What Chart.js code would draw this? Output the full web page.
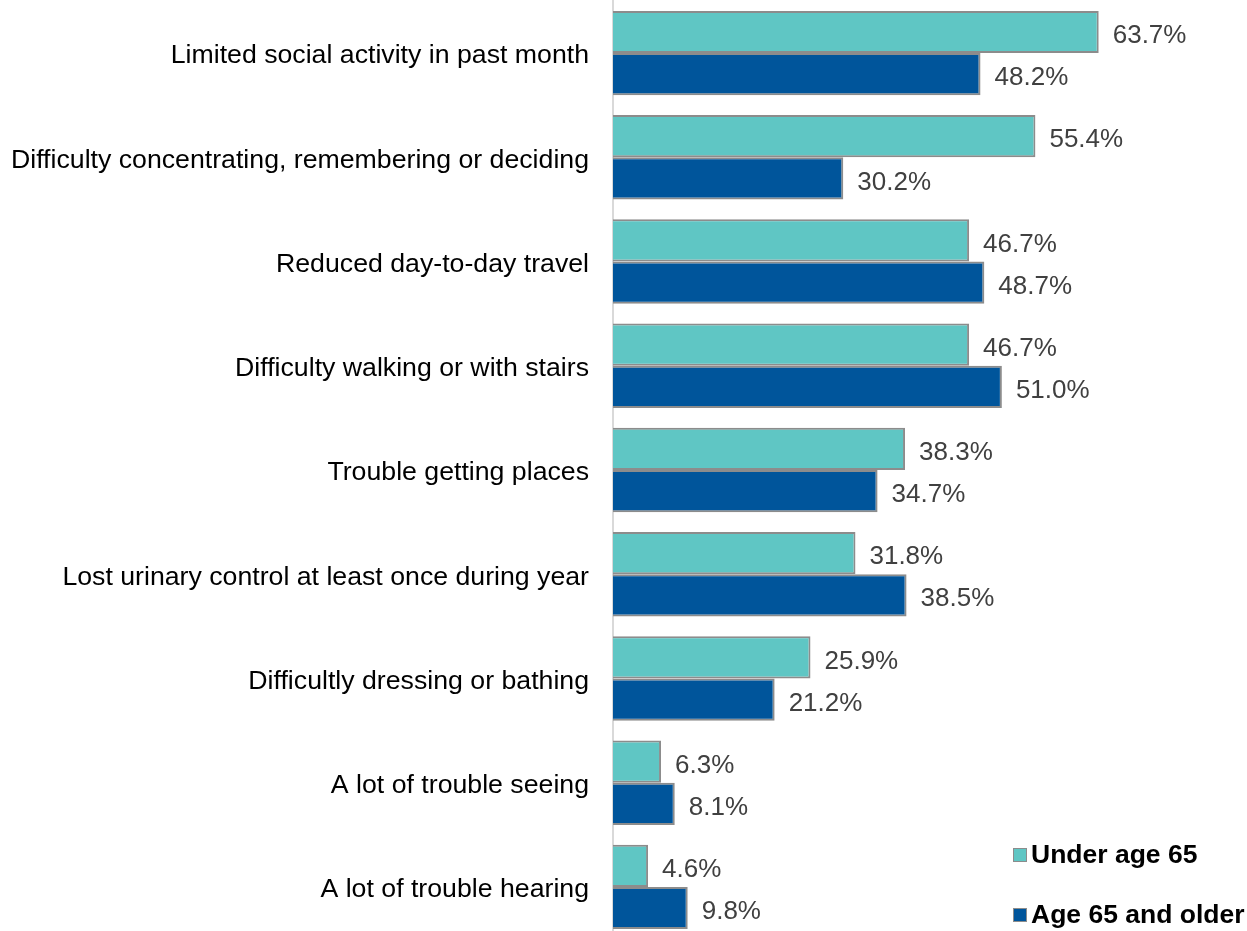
<!DOCTYPE html>
<html>
<head>
<meta charset="utf-8">
<script src="https://cdn.jsdelivr.net/npm/chart.js@4/dist/chart.umd.min.js"></script>
<style>
  html, body { margin: 0; padding: 0; background: #fff; overflow: hidden; }
  canvas { display: block; }
</style>
</head>
<body>
<canvas id="chart" width="1247" height="940"></canvas>
<script>
// categories and values
const categories = [
    'Limited social activity in past month',
    'Difficulty concentrating, remembering or deciding',
    'Reduced day-to-day travel',
    'Difficulty walking or with stairs',
    'Trouble getting places',
    'Lost urinary control at least once during year',
    'Difficultly dressing or bathing',
    'A lot of trouble seeing',
    'A lot of trouble hearing'
];
const underAge65 = [63.7, 55.4, 46.7, 46.7, 38.3, 31.8, 25.9, 6.3, 4.6];
const age65Older = [48.2, 30.2, 48.7, 51.0, 34.7, 38.5, 21.2, 8.1, 9.8];
const seriesNames = ['Under age 65', 'Age 65 and older'];

const FONT = '"Liberation Sans", Arial, sans-serif';

// value labels to the right of each bar
const valueLabels = {
    id: 'valueLabels',
    afterDatasetsDraw(chart) {
        const ctx = chart.ctx;
        ctx.save();
        ctx.font = '26px ' + FONT;
        ctx.fillStyle = '#404040';
        ctx.textAlign = 'left';
        ctx.textBaseline = 'middle';
        chart.data.datasets.forEach((ds, i) => {
            chart.getDatasetMeta(i).data.forEach((bar, j) => {
                ctx.fillText(ds.data[j].toFixed(1) + '%', bar.x + 14, bar.y + 4);
            });
        });
        ctx.restore();
    }
};

// legend in the bottom right corner
const cornerLegend = {
    id: 'cornerLegend',
    afterDraw(chart) {
        const ctx = chart.ctx;
        const rows = [855, 915];
        ctx.save();
        ctx.font = 'bold 26.5px ' + FONT;
        ctx.textBaseline = 'middle';
        chart.data.datasets.forEach((ds, i) => {
            const y = rows[i];
            ctx.fillStyle = ds.backgroundColor;
            ctx.fillRect(1013, y - 7, 14, 14);
            ctx.strokeStyle = '#8c8c8c';
            ctx.lineWidth = 1;
            ctx.strokeRect(1013.5, y - 6.5, 13, 13);
            ctx.fillStyle = '#000';
            ctx.fillText(ds.label, 1031, y + 1);
        });
        ctx.restore();
    }
};

new Chart(document.getElementById('chart'), {
    type: 'bar',
    data: {
        labels: categories,
        datasets: [{
            label: seriesNames[0],
            data: underAge65,
            backgroundColor: '#5fc6c4',
            borderColor: '#8c8c8c',
            borderWidth: 2
        }, {
            label: seriesNames[1],
            data: age65Older,
            backgroundColor: '#00559b',
            borderColor: '#8c8c8c',
            borderWidth: 2
        }]
    },
    options: {
        indexAxis: 'y',
        responsive: false,
        animation: false,
        datasets: {
            bar: { barPercentage: 1, categoryPercentage: 0.81 }
        },
        layout: { padding: { top: 1, right: 24, bottom: 1, left: 0 } },
        plugins: {
            legend: { display: false },
            tooltip: { enabled: false }
        },
        scales: {
            x: {
                display: false,
                min: 0,
                max: 80
            },
            y: {
                afterFit(axis) {
                    axis.width = 613;
                    axis.paddingTop = 0;
                    axis.paddingBottom = 0;
                },
                afterUpdate(axis) {
                    // nudge category labels a little lower, like the original
                    if (axis._nudged) return;
                    axis._nudged = true;
                    const orig = axis.drawLabels;
                    axis.drawLabels = function(area) {
                        this.ctx.save();
                        this.ctx.translate(0, 3);
                        orig.call(this, area);
                        this.ctx.restore();
                    };
                },
                grid: { display: false, drawTicks: false },
                border: { display: true, color: '#d9d9d9', width: 2 },
                ticks: {
                    color: '#000',
                    padding: 24,
                    autoSkip: false,
                    font: { family: FONT, size: 26.7 }
                }
            }
        }
    },
    plugins: [valueLabels, cornerLegend]
});
</script>
</body>
</html>
